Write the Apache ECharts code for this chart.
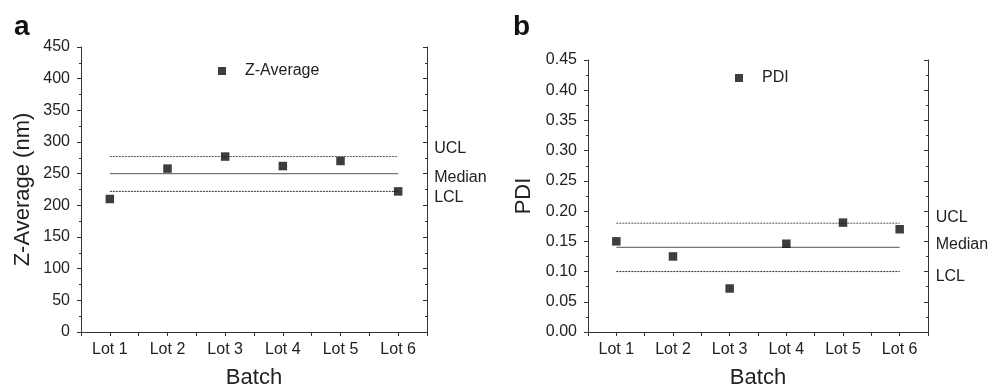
<!DOCTYPE html>
<html>
<head>
  <meta charset="utf-8">
  <title>Batch control charts</title>
  <script src="https://cdn.jsdelivr.net/npm/echarts@6/dist/echarts.min.js"></script>
  <style>
    html, body { margin: 0; padding: 0; background: #fff; }
    #main { width: 992px; height: 387px; }
  </style>
</head>
<body>
<div id="main"></div>
<script>
// batches
var lots = ['Lot 1', 'Lot 2', 'Lot 3', 'Lot 4', 'Lot 5', 'Lot 6'];

// panel a: Z-Average (nm)
var zAvg = [210, 258, 277, 262, 270, 222];
var zLimitNames = ['UCL', 'Median', 'LCL'];
var zLimits = [277, 250, 222];

// panel b: PDI
var pdi = [0.150, 0.125, 0.072, 0.146, 0.181, 0.170];
var pdiLimitNames = ['UCL', 'Median', 'LCL'];
var pdiLimits = [0.18, 0.14, 0.10];

var FONT = 'Liberation Sans, Arial, sans-serif';
var AXIS = '#333';

function points(vals) {
  return vals.map(function (v, i) { return [i + 1, v]; });
}

function lotLabel(v) {
  if (Math.abs(v - Math.round(v)) > 1e-6) return '';
  return lots[Math.round(v) - 1] || '';
}

function xAxes(gi) {
  return [{
    type: 'value', gridIndex: gi, min: 0.5, max: 6.5, interval: 0.5,
    name: 'Batch', nameLocation: 'middle', nameGap: 35,
    nameTextStyle: { fontFamily: FONT, fontSize: 22, color: '#222' },
    axisLine: { lineStyle: { color: AXIS, width: 1 } },
    axisTick: { length: 4, lineStyle: { color: AXIS } },
    axisLabel: { formatter: lotLabel, fontFamily: FONT, fontSize: 16, color: '#222', margin: 10 },
    splitLine: { show: false }
  }, {
    type: 'value', gridIndex: gi, position: 'top', min: 0.5, max: 6.5, interval: 0.5,
    axisLine: { lineStyle: { color: AXIS, width: 1 } },
    axisTick: { inside: true, length: 3, lineStyle: { color: AXIS } },
    axisLabel: { show: false },
    splitLine: { show: false }
  }];
}

function yAxes(gi, max, step, name, gap, fmt) {
  return [{
    type: 'value', gridIndex: gi, min: 0, max: max, interval: step,
    name: name, nameLocation: 'middle', nameGap: gap,
    nameTextStyle: { fontFamily: FONT, fontSize: 22, color: '#222' },
    axisLine: { show: true, lineStyle: { color: AXIS, width: 1 } },
    axisTick: { show: true, length: 4, lineStyle: { color: AXIS } },
    minorTick: { show: true, splitNumber: 2, length: 2, lineStyle: { color: AXIS } },
    axisLabel: { formatter: fmt, fontFamily: FONT, fontSize: 16, color: '#222', margin: 11 },
    splitLine: { show: false }
  }, {
    type: 'value', gridIndex: gi, position: 'right', min: 0, max: max, interval: step,
    axisLine: { show: true, lineStyle: { color: AXIS, width: 1 } },
    axisTick: { show: true, inside: true, length: 4, lineStyle: { color: AXIS } },
    minorTick: { show: true, splitNumber: 2, length: 2, lineStyle: { color: AXIS } },
    axisLabel: { show: false },
    splitLine: { show: false }
  }];
}

var lineStyles = [
  { color: '#555', width: 1, type: [2, 1] },
  { color: '#777', width: 1.2, type: 'solid' },
  { color: '#333', width: 1, type: [2, 1] }
];

function limitSeries(names, vals, xi, yi, offsets) {
  return vals.map(function (v, k) {
    return {
      type: 'line', name: names[k], xAxisIndex: xi, yAxisIndex: yi,
      data: [[1, v], [lots.length, v]],
      symbol: 'none', silent: true, z: 1,
      lineStyle: lineStyles[k],
      endLabel: {
        show: true, formatter: names[k], distance: 36, offset: [0, offsets[k]],
        fontFamily: FONT, fontSize: 16, color: '#222'
      }
    };
  });
}

var dom = document.getElementById('main');
var myChart = echarts.init(dom);
var option = {
  animation: false,
  backgroundColor: '#fff',
  textStyle: { fontFamily: FONT },
  title: [
    { text: 'a', left: 9, top: 8, textStyle: { fontFamily: FONT, fontSize: 28, fontWeight: 'bold', color: '#111' } },
    { text: 'b', left: 508, top: 8, textStyle: { fontFamily: FONT, fontSize: 28, fontWeight: 'bold', color: '#111' } }
  ],
  legend: [
    { data: ['Z-Average'], left: 218, top: 63, padding: 0, itemWidth: 8, itemHeight: 8,
      textStyle: { fontFamily: FONT, fontSize: 16, color: '#222', padding: [0, 0, 0, 14] } },
    { data: ['PDI'], left: 735, top: 70, padding: 0, itemWidth: 8, itemHeight: 8,
      textStyle: { fontFamily: FONT, fontSize: 16, color: '#222', padding: [0, 0, 0, 14] } }
  ],
  grid: [
    { left: 81, right: 565, top: 47, bottom: 55, outerBoundsMode: 'none', containLabel: false },
    { left: 588, right: 64, top: 60, bottom: 55, outerBoundsMode: 'none', containLabel: false }
  ],
  xAxis: xAxes(0).concat(xAxes(1)),
  yAxis: yAxes(0, 450, 50, 'Z-Average (nm)', 47, function (v) { return String(v); })
    .concat(yAxes(1, 0.45, 0.05, 'PDI', 53, function (v) { return v.toFixed(2); })),
  series: [
    { type: 'scatter', name: 'Z-Average', xAxisIndex: 0, yAxisIndex: 0, data: points(zAvg),
      symbol: 'rect', symbolSize: 8.5, itemStyle: { color: '#0d0d0d' }, z: 3 },
    { type: 'scatter', name: 'PDI', xAxisIndex: 2, yAxisIndex: 2, data: points(pdi),
      symbol: 'rect', symbolSize: 8.5, itemStyle: { color: '#0d0d0d' }, z: 3 }
  ]
    .concat(limitSeries(zLimitNames, zLimits, 0, 0, [-8, 4, 6]))
    .concat(limitSeries(pdiLimitNames, pdiLimits, 2, 2, [-6, -3, 5]))
};
myChart.setOption(option);
</script>
</body>
</html>
